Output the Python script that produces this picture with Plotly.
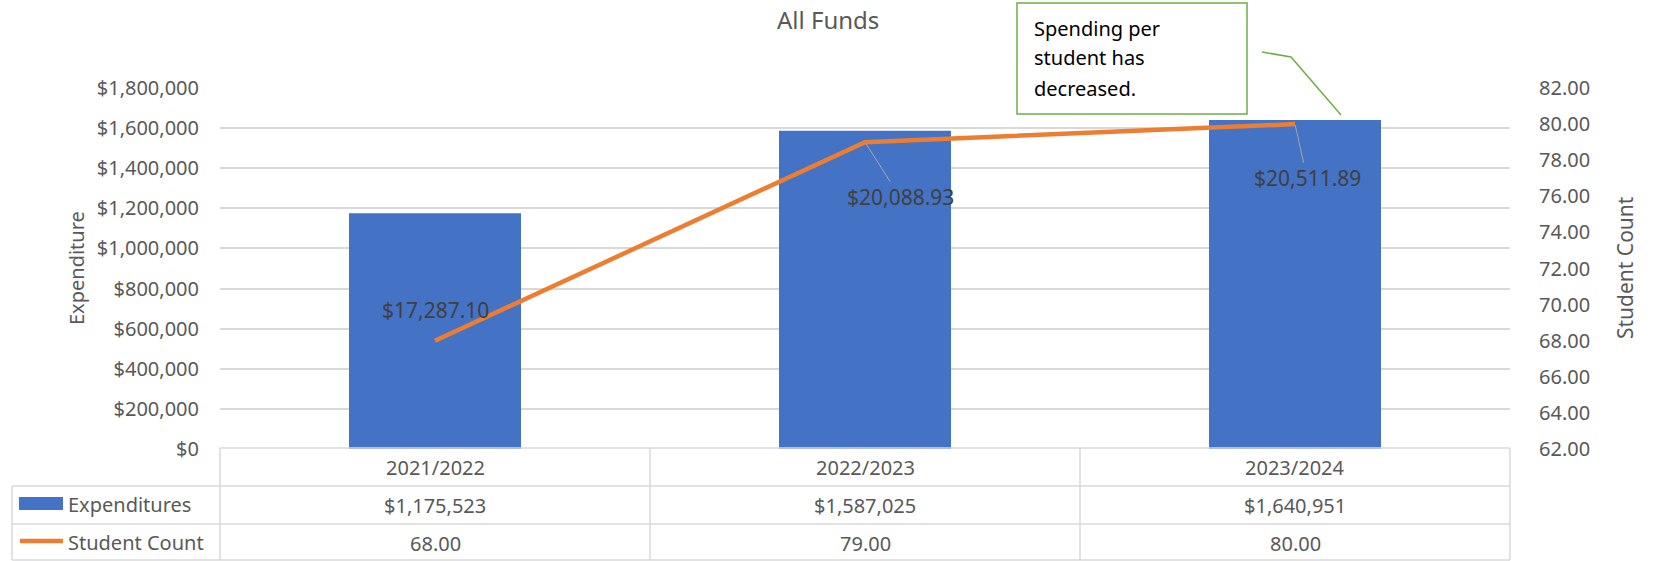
import plotly.graph_objects as go

# ---- data ----
categories = ["2021/2022", "2022/2023", "2023/2024"]
expenditures = [1175523, 1587025, 1640951]
student_count = [68.00, 79.00, 80.00]
spending_per_student = [17287.10, 20088.93, 20511.89]
series_names = ["Expenditures", "Student Count"]
title_text = "All Funds"
callout_lines = ["Spending per", "student has", "decreased."]

# ---- geometry (page pixels) ----
W, H = 1661, 561
L, R, T, B = 220, 1510, 88, 449  # plot area edges


def px(x):
    return (x - L) / (R - L)


def py(y):
    return (B - y) / (B - T)


FONT = "Noto Sans"
GRAY = "#595959"
GRID = "#D9D9D9"
BLUE = "#4472C4"
ORANGE = "#ED7D31"

fig = go.Figure()
fig.add_trace(go.Bar(x=categories, y=expenditures, name=series_names[0],
                     marker=dict(color=BLUE, line=dict(width=0)), yaxis="y"))
fig.add_trace(go.Scatter(x=categories, y=student_count, name=series_names[1],
                         mode="lines", line=dict(color=ORANGE, width=4.5),
                         yaxis="y2"))

annotations = []
shapes = []


def text_ann(x, y, text, size=20, color=GRAY, xanchor="center", **kw):
    d = dict(x=x, y=y, xref="paper", yref="paper", text=text, showarrow=False,
             xanchor=xanchor, yanchor="middle",
             font=dict(family=FONT, size=size, color=color))
    d.update(kw)
    return d


# data labels (spending per student)
label_offsets = [(0, -31, False), (35, 55, True), (12, 54, True)]
for cat, cnt, sp, (ax, ay, arrow) in zip(categories, student_count,
                                         spending_per_student, label_offsets):
    annotations.append(dict(
        x=cat, y=cnt, xref="x", yref="y2", text=f"${sp:,.2f}",
        showarrow=True, ax=ax, ay=ay, arrowhead=0, arrowwidth=1,
        arrowcolor="#A6A6A6" if arrow else "rgba(0,0,0,0)", standoff=1,
        xanchor="center", yanchor="middle",
        font=dict(family=FONT, size=21, color="#404040")))

# title
annotations.append(text_ann(px(828), py(19), title_text, size=24))

# axis titles
annotations.append(text_ann(px(76), py(268), "Expenditure", textangle=-90))
annotations.append(text_ann(px(1625), py(268), "Student Count", size=21, textangle=-90))

# data table
for cat, ex, cnt in zip(categories, expenditures, student_count):
    for yy, t in [(467, cat), (505, f"${ex:,.0f}"), (543, f"{cnt:.2f}")]:
        annotations.append(dict(x=cat, y=py(yy), xref="x", yref="paper", text=t,
                                showarrow=False, xanchor="center", yanchor="middle",
                                font=dict(family=FONT, size=20, color=GRAY)))
for name, yy in zip(series_names, [504, 542]):
    annotations.append(text_ann(px(66), py(yy), name, xanchor="left"))

line_style = dict(color=GRID, width=1.5)
for y0, xs in [(448, 220), (486, 12), (524, 12), (560, 12)]:
    shapes.append(dict(type="line", xref="paper", yref="paper",
                       x0=px(xs), x1=px(1510), y0=py(y0), y1=py(y0), line=line_style))
shapes.append(dict(type="line", xref="paper", yref="paper", x0=px(12), x1=px(12),
                   y0=py(486), y1=py(560), line=line_style))
for xv in [220, 650, 1080, 1510]:
    shapes.append(dict(type="line", xref="paper", yref="paper", x0=px(xv), x1=px(xv),
                       y0=py(448), y1=py(560), line=line_style))

# legend keys
shapes.append(dict(type="rect", xref="paper", yref="paper", x0=px(19), x1=px(63),
                   y0=py(510), y1=py(497), fillcolor=BLUE, line=dict(width=0)))
shapes.append(dict(type="line", xref="paper", yref="paper", x0=px(20), x1=px(63),
                   y0=py(541), y1=py(541), line=dict(color=ORANGE, width=4.5)))

# callout box
shapes.append(dict(type="rect", xref="paper", yref="paper", x0=px(1017), x1=px(1247),
                   y0=py(114), y1=py(3), fillcolor="white",
                   line=dict(color="#70AD47", width=1.5)))
shapes.append(dict(type="path", xref="paper", yref="paper",
                   path=f"M {px(1262)} {py(52)} L {px(1291)} {py(57)} L {px(1341)} {py(115)}",
                   line=dict(color="#70AD47", width=1.5)))
for i, t in enumerate(callout_lines):
    annotations.append(text_ann(px(1032), py(28 + 30 * i), t, color="black",
                                xanchor="left"))

fig.update_layout(
    width=W, height=H,
    margin=dict(l=L, r=W - R, t=T, b=H - B, pad=0, autoexpand=False),
    paper_bgcolor="white", plot_bgcolor="white",
    showlegend=False, bargap=0.6,
    font=dict(family=FONT, size=20, color=GRAY),
    xaxis=dict(showticklabels=False, showgrid=False, showline=False, zeroline=False),
    yaxis=dict(range=[0, 1800000], dtick=200000, tickformat="$,.0f",
               gridcolor=GRID, gridwidth=1.5, zeroline=False, showline=False,
               ticks="", ticklabelstandoff=20,
               tickfont=dict(family=FONT, size=20, color=GRAY)),
    yaxis2=dict(range=[62, 82], dtick=2, tickformat=".2f", overlaying="y",
                side="right", showgrid=False, zeroline=False, showline=False,
                ticks="", ticklabelstandoff=28,
                tickfont=dict(family=FONT, size=20, color=GRAY)),
    annotations=annotations, shapes=shapes,
)

fig.write_html("out.html", config={"displayModeBar": False},
               post_script="document.body.style.margin='0';document.body.style.overflow='hidden';")
